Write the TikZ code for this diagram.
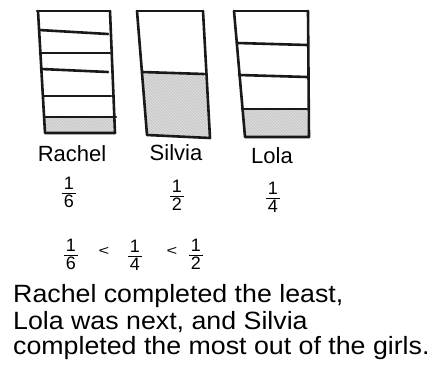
\documentclass[tikz,border=0pt]{standalone}
\usepackage{fontspec}
\setmainfont{Liberation Sans}
\usetikzlibrary{patterns}
\newcommand{\hfr}[2]{#1\\[-7pt]\rule[3pt]{14pt}{1.3pt}\\[-5pt]#2}
\begin{document}
\begin{tikzpicture}[x=1pt,y=-1pt,
  ink/.style={line width=2.6pt,line cap=round,line join=round,black!90},
  shade/.style={fill=gray!42},
  hatch/.style={pattern=north west lines,pattern color=white!80!gray},
  girlname/.style={font=\fontsize{22}{22}\selectfont,inner sep=0pt},
  fracnode/.style={font=\fontsize{18}{15}\selectfont,inner sep=0pt,align=center},
  ltnode/.style={font=\fontsize{14}{14}\selectfont,inner sep=0pt,xscale=1.3},
  sent/.style={font=\fontsize{25}{25}\selectfont,inner sep=0pt,anchor=west,xscale=1.07}]
\useasboundingbox (0,0) rectangle (444,382);
% Rachel
\path[shade] (44,117) -- (114,117) -- (115,133) -- (45,133) -- cycle;
\path[hatch] (44,117) -- (114,117) -- (115,133) -- (45,133) -- cycle;
\draw[ink] (37,11) -- (110,11);
\draw[ink] (38,11) -- (45,133) -- (115,133) -- (110,11);
\draw[ink] (39,30) -- (108,34);
\draw[ink] (40,53) -- (110,53);
\draw[ink] (41,69) -- (108,72);
\draw[ink] (43,96) -- (111,96);
\draw[ink] (44,117) -- (116,117);
% Silvia
\path[shade] (142,72) -- (205,74) -- (209,138) -- (147,135) -- cycle;
\path[hatch] (142,72) -- (205,74) -- (209,138) -- (147,135) -- cycle;
\draw[ink] (137,11) -- (203,11);
\draw[ink] (137,11) -- (147,135) -- (210,138) -- (203,11);
\draw[ink] (142,72) -- (204,74);
% Lola
\path[shade] (242,109) -- (307,109) -- (309,137) -- (245,137) -- cycle;
\path[hatch] (242,109) -- (307,109) -- (309,137) -- (245,137) -- cycle;
\draw[ink] (234,11) -- (308,11);
\draw[ink] (234,11) -- (245,137) -- (309,137) -- (308,11);
\draw[ink] (237,43) -- (307,45);
\draw[ink] (239,75) -- (307,77);
\draw[ink] (242,109) -- (307,109);
% labels
\node[girlname] (rachel) at (72,154) {Rachel};
\node[girlname] (silvia) at (176,153) {Silvia};
\node[girlname] (lola) at (272,156) {Lola};
\node[fracnode] (f6) at (69,192) {\hfr{1}{6}};
\node[fracnode] (f2) at (177,195) {\hfr{1}{2}};
\node[fracnode] (f4) at (273,197) {\hfr{1}{4}};
% inequality
\node[fracnode] (i6) at (71,254) {\hfr{1}{6}};
\node[ltnode] (lt1) at (104,251) {<};
\node[fracnode] (i4) at (135,255) {\hfr{1}{4}};
\node[ltnode] (lt2) at (172,251) {<};
\node[fracnode] (i2) at (196,254) {\hfr{1}{2}};
% sentence
\node[sent] (s1) at (13,296) {Rachel completed the least,};
\node[sent] (s2) at (13,322) {Lola was next, and Silvia};
\node[sent] (s3) at (13,348) {completed the most out of the girls.};
\end{tikzpicture}
\end{document}
